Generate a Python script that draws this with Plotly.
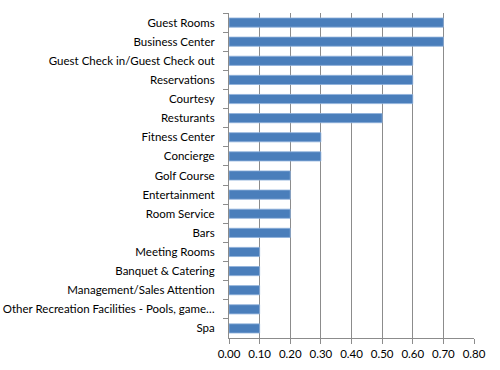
import plotly.graph_objects as go

categories = [
    "Guest Rooms", "Business Center", "Guest Check in/Guest Check out",
    "Reservations", "Courtesy", "Resturants", "Fitness Center", "Concierge",
    "Golf Course", "Entertainment", "Room Service", "Bars", "Meeting Rooms",
    "Banquet & Catering", "Management/Sales Attention",
    "Other Recreation Facilities - Pools, game…", "Spa",
]
values = [0.70, 0.70, 0.60, 0.60, 0.60, 0.50, 0.30, 0.30,
          0.20, 0.20, 0.20, 0.20, 0.10, 0.10, 0.10, 0.10, 0.10]
tick_vals = [0, 0.1, 0.2, 0.3, 0.4, 0.5, 0.6, 0.7, 0.8]
tick_text = ["0.00", "0.10", "0.20", "0.30", "0.40", "0.50", "0.60", "0.70", "0.80"]

fig = go.Figure(go.Bar(
    x=values, y=categories, orientation="h",
    marker=dict(color="#4A7EBB", line=dict(color="#8FB1DC", width=0.8)),
    width=0.48,
))
fig.update_layout(
    width=500, height=370,
    margin=dict(l=229, r=26, t=13, b=32),
    paper_bgcolor="white", plot_bgcolor="white",
    font=dict(family="Lato, Carlito, sans-serif", size=11.5, color="black"),
    showlegend=False,
    bargap=0.5,
)
fig.update_xaxes(
    range=[0, 0.8], tickvals=tick_vals, ticktext=tick_text,
    showgrid=True, gridcolor="#8C8C8C", gridwidth=1,
    showline=True, linecolor="#8C8C8C", linewidth=1,
    ticks="outside", ticklen=5, tickcolor="#8C8C8C", zeroline=False,
    automargin=False,
)
fig.update_yaxes(
    categoryorder="array", categoryarray=categories, autorange="reversed",
    showline=True, linecolor="#8C8C8C", linewidth=1,
    ticks="outside", ticklen=5, tickcolor="#8C8C8C", tickson="boundaries",
    showgrid=False, ticklabelstandoff=11, automargin=False,
)
fig.write_html("out.html")
